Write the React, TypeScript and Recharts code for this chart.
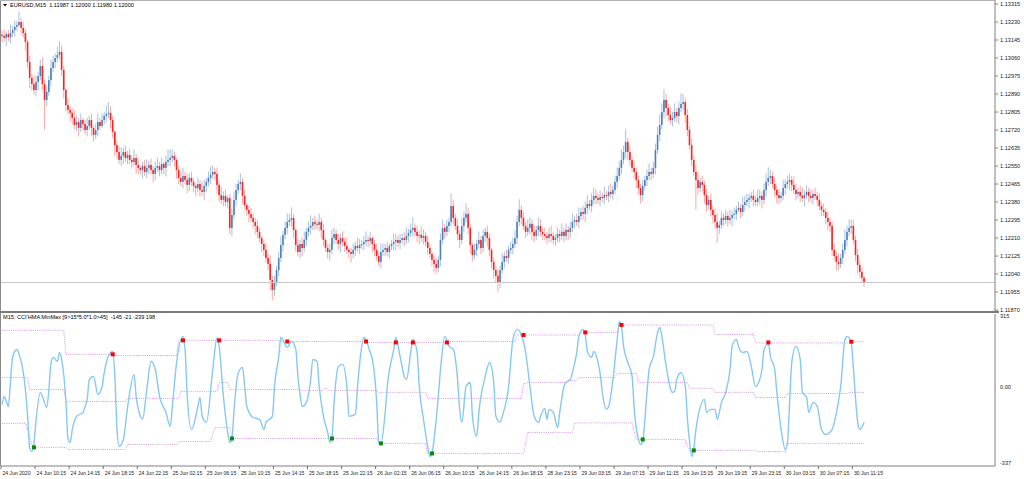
import React from 'react';
import { ComposedChart, Bar, Line, XAxis, YAxis, ReferenceLine } from 'recharts';

const SLOTS = 467;
const FONT = "'Liberation Sans', Arial, sans-serif";

// prices stored as points above 1.10000 (e.g. 3164 -> 1.13164)
const firstOpen = 3170;
const closes = [
  3164,3155,3173,3159,3178,3192,3207,3216,3230,3202,
  3178,3136,3041,2966,2937,2909,2947,2975,3022,2937,
  2862,2900,2956,3013,3041,3060,3074,3089,3004,2909,
  2838,2815,2801,2777,2744,2758,2730,2767,2749,2720,
  2739,2767,2730,2697,2720,2758,2739,2767,2786,2796,
  2801,2767,2711,2649,2616,2579,2598,2616,2588,2602,
  2579,2569,2588,2555,2541,2531,2550,2522,2541,2555,
  2531,2513,2541,2550,2531,2560,2541,2569,2579,2588,
  2598,2579,2531,2494,2475,2503,2484,2461,2494,2475,
  2456,2446,2465,2437,2428,2456,2475,2494,2508,2522,
  2513,2461,2413,2390,2409,2380,2399,2258,2319,2390,
  2437,2465,2475,2409,2366,2343,2324,2305,2286,2267,
  2239,2210,2182,2154,2116,2088,2012,1965,2003,2059,
  2116,2177,2225,2258,2286,2295,2305,2248,2177,2144,
  2182,2163,2201,2239,2258,2267,2286,2277,2272,2286,
  2248,2201,2163,2144,2154,2210,2229,2201,2182,2210,
  2192,2173,2154,2144,2135,2154,2173,2163,2177,2182,
  2192,2201,2196,2210,2182,2154,2125,2097,2144,2154,
  2163,2144,2173,2182,2192,2201,2187,2201,2210,2201,
  2220,2234,2248,2258,2239,2220,2225,2210,2220,2192,
  2163,2135,2107,2088,2069,2107,2201,2258,2239,2267,
  2286,2361,2305,2267,2229,2201,2267,2305,2324,2258,
  2177,2130,2154,2182,2201,2163,2220,2239,2210,2154,
  2097,2059,2031,2003,2059,2097,2125,2116,2154,2163,
  2182,2210,2286,2343,2305,2267,2239,2258,2277,2239,
  2220,2248,2267,2239,2229,2220,2210,2229,2220,2201,
  2210,2229,2220,2239,2220,2248,2239,2258,2286,2295,
  2286,2314,2333,2324,2352,2371,2361,2390,2409,2399,
  2390,2404,2399,2413,2409,2428,2418,2437,2475,2503,
  2541,2579,2616,2664,2616,2579,2541,2522,2484,2446,
  2413,2456,2484,2503,2522,2513,2541,2626,2697,2744,
  2805,2862,2824,2791,2767,2777,2805,2786,2824,2843,
  2852,2791,2720,2649,2579,2522,2484,2446,2475,2461,
  2413,2366,2390,2343,2319,2286,2258,2272,2305,2295,
  2314,2295,2305,2319,2324,2343,2352,2333,2366,2380,
  2390,2399,2409,2390,2380,2399,2409,2390,2437,2475,
  2494,2503,2465,2437,2413,2399,2409,2446,2465,2475,
  2484,2461,2437,2418,2428,2409,2399,2413,2428,2409,
  2399,2418,2409,2390,2361,2343,2333,2305,2286,2267,
  2154,2125,2097,2088,2116,2154,2201,2239,2258,2267,
  2201,2130,2083,2050,2022,2000,
];
// wick lengths beyond the body, in pips
const wickUp = [
  2,3,1,2,4,2,3,2,5,2,3,2,1,3,2,4,3,2,3,4,
  2,3,2,4,3,2,4,5,3,2,1,3,2,2,4,3,2,3,1,2,
  4,2,3,1,3,4,2,3,2,4,5,3,2,1,2,3,4,2,3,2,
  3,2,4,2,3,1,2,3,4,2,3,2,3,4,2,3,1,3,5,4,
  3,2,1,2,3,4,2,3,2,3,2,1,3,2,4,3,2,3,4,3,
  2,3,2,4,2,3,1,2,3,4,3,2,4,2,3,1,2,3,2,2,
  3,2,1,2,3,2,4,2,3,2,3,4,2,3,4,3,5,2,1,3,
  2,3,4,2,3,5,2,3,2,4,2,3,1,2,3,4,3,2,3,2,
  3,2,4,1,2,3,2,4,3,2,3,4,2,3,1,2,3,2,4,3,
  2,3,1,2,4,3,2,3,2,3,4,2,3,5,2,3,2,4,3,2,
  3,2,1,2,3,2,3,4,2,3,2,6,3,2,3,2,4,3,5,3,
  2,1,3,2,4,2,3,2,3,2,1,2,2,3,2,4,2,3,2,3,
  3,4,3,5,2,3,2,4,3,2,3,2,4,3,2,3,2,3,4,2,
  2,3,2,4,2,3,2,3,4,2,3,4,2,3,3,4,2,3,4,3,
  2,3,2,4,2,3,4,2,3,4,3,5,3,6,2,3,2,3,2,2,
  2,3,2,3,4,2,3,3,4,5,4,5,3,2,4,3,4,2,3,5,
  4,2,3,2,3,2,3,4,2,3,2,3,2,3,2,3,4,2,3,2,
  3,2,4,2,3,2,3,2,4,3,3,2,2,3,2,4,3,2,3,4,
  5,3,2,3,2,3,2,4,2,3,3,2,4,3,2,3,4,2,3,2,
  3,2,3,2,3,2,3,2,3,2,2,3,2,4,2,3,5,3,4,3,
  3,2,3,2,2,1,
];
const wickDown = [
  3,2,4,2,3,2,3,2,1,3,2,4,3,5,3,2,3,4,2,3,
  14,3,2,3,2,3,2,2,3,4,3,2,4,3,2,3,4,2,3,2,
  3,2,4,3,2,3,2,1,2,3,2,4,3,5,3,2,3,4,2,3,
  2,3,2,4,3,2,4,2,3,3,2,4,3,2,3,2,3,4,2,3,
  2,3,4,3,2,3,2,4,3,2,3,4,2,3,2,4,3,2,3,2,
  3,4,3,2,3,2,3,3,4,2,3,2,3,4,2,3,4,2,3,4,
  3,2,4,3,2,3,5,5,3,2,3,2,3,2,3,2,3,4,3,2,
  3,4,2,3,2,3,2,3,2,3,4,3,2,3,4,2,3,2,3,4,
  2,3,2,3,4,2,3,2,3,2,3,2,3,2,4,3,2,2,3,2,
  3,2,3,2,3,4,2,3,2,3,2,3,2,3,2,3,4,2,3,2,
  3,2,3,4,3,2,3,2,3,2,3,2,3,2,3,4,2,3,2,3,
  4,3,2,3,2,3,2,3,4,3,3,4,3,5,3,2,3,2,3,2,
  3,2,3,2,3,2,3,2,3,4,3,2,3,2,3,2,3,2,3,2,
  3,2,3,2,3,2,4,3,2,3,2,3,2,3,4,3,2,3,2,3,
  2,3,2,3,2,3,2,3,2,3,2,3,2,3,4,3,2,3,4,3,
  4,3,2,3,2,3,2,3,2,3,2,3,4,3,2,3,2,3,4,2,
  3,4,3,2,3,2,14,3,2,3,4,3,2,3,4,3,7,3,2,3,
  2,3,2,4,2,3,1,3,2,3,2,4,2,3,2,2,3,4,2,3,
  2,3,2,3,4,3,2,2,3,2,4,3,2,3,2,3,2,4,2,3,
  2,3,2,3,2,3,2,3,4,3,3,2,4,3,2,3,2,3,2,3,
  2,3,4,3,2,2,
];

const priceTicks = [1.13315,1.1323,1.13145,1.1306,1.12975,1.1289,1.12805,1.1272,1.12635,1.1255,1.12465,1.1238,1.12295,1.1221,1.12125,1.1204,1.11955,1.1187];
const lastPrice = 1.12;
const priceDomain = [1.118655, 1.133339];

const timeTickBars = [0,16,32,48,64,80,96,112,128,144,160,176,192,208,224,240,256,272,288,304,320,336,352,368,384,400];
const timeLabels = ['24 Jun 2020','24 Jun 10:15','24 Jun 14:15','24 Jun 18:15','24 Jun 22:15','25 Jun 02:15','25 Jun 06:15','25 Jun 10:15','25 Jun 14:15','25 Jun 18:15','25 Jun 22:15','26 Jun 02:15','26 Jun 06:15','26 Jun 10:15','26 Jun 14:15','26 Jun 18:15','28 Jun 23:15','29 Jun 03:15','29 Jun 07:15','29 Jun 11:15','29 Jun 15:15','29 Jun 19:15','29 Jun 23:15','30 Jun 03:15','30 Jun 07:15','30 Jun 11:15'];

const cciTicks = [315, 0, -337];
const cciPoints = [
  [0,-73],[1,-39],[2,-60],[3,-82],[4,34],[5,133],[7,163],[8,142],[10,64],[12,-120],[13,-262],[14,-275],[15,-240],[16,-137],[18,-21],[19,-39],[21,-86],[22,-9],[23,107],[24,129],[26,112],[27,150],[28,120],[30,-60],[31,-223],[32,-236],[33,-180],[35,-124],[38,-107],[39,-82],[40,-51],[41,34],[43,47],[45,-30],[47,4],[48,64],[51,150],[52,154],[53,47],[54,-180],[55,-253],[57,-223],[59,-82],[62,56],[63,-39],[65,-124],[66,-137],[68,-9],[70,112],[72,77],[74,-39],[77,-107],[79,-167],[80,-82],[82,107],[85,219],[86,163],[87,-39],[89,-180],[92,-82],[93,-43],[94,-124],[96,-150],[99,77],[101,212],[102,176],[104,-39],[106,-193],[107,-236],[108,-223],[109,-94],[111,64],[113,86],[114,4],[115,-82],[118,-129],[121,-137],[123,-180],[124,-150],[127,-124],[128,4],[130,133],[131,215],[133,184],[134,172],[136,197],[138,163],[139,47],[140,-30],[141,-82],[143,-64],[145,34],[146,120],[148,112],[149,4],[151,-124],[153,-193],[154,-236],[155,-215],[156,-64],[158,90],[160,99],[162,4],[163,-124],[166,-116],[167,4],[169,176],[170,215],[173,150],[174,120],[176,-64],[177,-236],[178,-240],[180,-107],[181,4],[184,163],[185,215],[187,133],[189,47],[190,34],[192,150],[193,206],[195,150],[196,4],[198,-137],[200,-253],[201,-296],[202,-280],[204,-137],[206,77],[208,219],[210,176],[212,163],[214,34],[215,-94],[216,-150],[218,4],[220,21],[221,-124],[223,-210],[224,-107],[227,47],[229,107],[231,21],[232,-124],[234,-150],[235,-124],[238,4],[240,206],[242,249],[244,225],[246,150],[248,4],[250,-124],[252,-150],[253,-124],[255,-90],[256,-137],[257,-94],[259,-107],[261,-172],[262,-107],[264,4],[265,21],[267,34],[268,64],[270,150],[271,219],[273,249],[274,225],[275,154],[277,129],[278,154],[280,107],[281,58],[282,-21],[284,-94],[285,-82],[287,34],[289,206],[290,283],[291,260],[292,176],[294,107],[296,47],[297,-94],[299,-223],[300,-245],[301,-230],[303,-21],[304,77],[306,133],[308,236],[309,257],[310,219],[312,90],[315,-21],[316,-17],[317,34],[319,64],[321,4],[322,-137],[323,-230],[324,-296],[325,-260],[326,-180],[327,-124],[330,-51],[331,-107],[333,-94],[335,-94],[336,-137],[338,-64],[340,-21],[342,77],[343,176],[345,206],[346,176],[348,150],[350,154],[352,90],[354,4],[355,13],[357,77],[358,163],[360,189],[361,133],[363,77],[364,-21],[366,-180],[368,-266],[369,-236],[370,-64],[371,107],[373,176],[375,120],[376,-21],[378,-43],[379,-107],[381,-64],[383,-82],[385,-180],[387,-202],[390,-180],[392,-107],[394,4],[396,206],[397,219],[399,190],[400,77],[402,-150],[403,-180],[405,-150],
];
// level lines: [first bar of the step, level]
const upperSteps = [[0,245],[30,142],[52,137],[83,202],[131,197],[170,193],[211,197],[242,225],[272,236],[290,268],[335,227],[354,191],[399,196]];
const middleSteps = [[0,43],[13,-9],[30,-60],[59,-47],[84,-17],[102,21],[107,-9],[140,-13],[152,0],[153,-13],[177,-21],[200,-47],[245,17],[247,21],[266,30],[271,43],[289,60],[299,21],[323,-4],[335,-21],[354,-43],[369,-26],[398,-21]];
const lowerSteps = [[0,-154],[12,-180],[13,-215],[14,-245],[15,-257],[31,-266],[59,-245],[83,-232],[99,-200],[100,-172],[108,-219],[177,-236],[178,-240],[200,-283],[246,-240],[247,-193],[269,-152],[297,-190],[298,-223],[322,-250],[323,-270],[355,-275],[369,-240]];
const peakMarks = [[52,142],[85,202],[102,202],[134,197],[171,197],[185,193],[193,193],[209,193],[245,225],[274,236],[291,268],[360,193],[399,196]];
const troughMarks = [[15,-257],[108,-219],[155,-219],[178,-240],[202,-283],[301,-223],[325,-270]];

const toPrice = (v: number) => 1.1 + v / 1e5;
const stepAt = (steps: number[][], b: number) => {
  let v = steps[0][1];
  for (const [s, val] of steps) if (s <= b) v = val;
  return v;
};

const priceData = Array.from({ length: SLOTS }, (_, i) => {
  if (i >= closes.length) return { i };
  const o = toPrice(i === 0 ? firstOpen : closes[i - 1]);
  const c = toPrice(closes[i]);
  const h = Math.max(o, c) + wickUp[i] / 1e4;
  const l = Math.min(o, c) - wickDown[i] / 1e4;
  return { i, o, c, h, l, hl: [l, h] };
});

const cciMap = new Map(cciPoints.map(([b, v]) => [b, v]));
const peakMap = new Map(peakMarks.map(([b, v]) => [b, v]));
const troughMap = new Map(troughMarks.map(([b, v]) => [b, v]));
const indData = Array.from({ length: SLOTS }, (_, i) => {
  if (i >= closes.length) return { i };
  return {
    i,
    cci: cciMap.has(i) ? cciMap.get(i) : null,
    up: stepAt(upperSteps, i),
    mid: stepAt(middleSteps, i),
    low: stepAt(lowerSteps, i),
    peak: peakMap.has(i) ? peakMap.get(i) : null,
    trough: troughMap.has(i) ? troughMap.get(i) : null,
  };
});

const Candle = (props: any) => {
  const { x, y, width, height, payload } = props;
  if (!payload || payload.o == null || y == null || isNaN(y)) return <g />;
  const { o, c, h, l } = payload;
  const top0 = Math.min(y, y + height);
  const hh = Math.abs(height);
  const span = h - l || 1e-9;
  const yOf = (p: number) => top0 + ((h - p) / span) * hh;
  const bull = c >= o;
  const cx = x + width / 2;
  const bt = yOf(Math.max(o, c));
  const bb = yOf(Math.min(o, c));
  return (
    <g>
      <line x1={cx} x2={cx} y1={top0} y2={top0 + hh} stroke={bull ? '#a8c2de' : '#ffa6a6'} strokeWidth={1} />
      <rect x={cx - 0.8} y={bt} width={1.6} height={Math.max(1, bb - bt)} fill={bull ? '#4b80b9' : '#ff1f1f'} />
    </g>
  );
};

const PriceTick = (props: any) => {
  const { x, y, payload } = props;
  const v = payload.value;
  if (Math.abs(v - lastPrice) < 1e-9) {
    return (
      <g>
        <rect x={x - 2} y={y - 4.5} width={26} height={9} fill="#000" />
        <text x={x} y={y} dy={2} fontSize={5.6} fill="#fff" fontFamily={FONT}>{v.toFixed(5)}</text>
      </g>
    );
  }
  return <text x={x} y={y} dy={2} fontSize={5.6} fill="#222" fontFamily={FONT}>{v.toFixed(5)}</text>;
};

const CciTick = (props: any) => {
  const { x, y, payload } = props;
  const v = payload.value;
  const label = v === 0 ? '0.00' : String(v);
  const dy = v > 0 ? 4 : v < 0 ? -1 : 2;
  return <text x={x} y={y} dy={dy} fontSize={5.6} fill="#222" fontFamily={FONT}>{label}</text>;
};

const TimeTick = (props: any) => {
  const { x, y, payload } = props;
  const idx = timeTickBars.indexOf(payload.value);
  const tx = x - 1.06;
  return (
    <g>
      <line x1={tx} x2={tx} y1={y} y2={y + 3} stroke="#707070" strokeWidth={1} />
      <text x={tx + 1.5} y={y + 9} fontSize={5.1} fill="#222" fontFamily={FONT}>{timeLabels[idx]}</text>
    </g>
  );
};

const SquareDot = (color: string) => (props: any) => {
  const { cx, cy, value, key } = props;
  if (value == null || cy == null || isNaN(cy)) return <g key={key} />;
  return <rect key={key} x={cx - 2} y={cy - 2} width={4} height={4} fill={color} />;
};

export default function App() {
  return (
    <div style={{ position: 'absolute', left: 0, top: 0, width: 1024, height: 479, background: '#fff', overflow: 'hidden' }}>
      <div style={{ position: 'absolute', left: 0, top: 0 }}>
        <ComposedChart width={1024} height={315} data={priceData} margin={{ top: 0, right: 0, bottom: 4, left: 1 }} barCategoryGap={0} barGap={0}>
          <XAxis dataKey="i" type="category" scale="band" hide />
          <YAxis
            orientation="right"
            width={29}
            type="number"
            domain={priceDomain}
            allowDataOverflow
            ticks={priceTicks}
            interval={0}
            tickSize={3}
            tickMargin={2}
            tick={<PriceTick />}
            axisLine={{ stroke: '#808080' }}
            tickLine={{ stroke: '#808080' }}
          />
          <ReferenceLine y={lastPrice} stroke="#c8c8c8" strokeWidth={1} ifOverflow="extendDomain" />
          <Bar dataKey="hl" shape={<Candle />} isAnimationActive={false} />
        </ComposedChart>
      </div>
      <div style={{ position: 'absolute', left: 0, top: 312 }}>
        <ComposedChart width={1024} height={167} data={indData} margin={{ top: 2, right: 0, bottom: 0, left: 1 }}>
          <XAxis
            dataKey="i"
            type="category"
            scale="band"
            height={13}
            ticks={timeTickBars}
            interval={0}
            tickSize={0}
            tickMargin={0}
            tick={<TimeTick />}
            axisLine={{ stroke: '#808080' }}
            tickLine={false}
          />
          <YAxis
            orientation="right"
            width={29}
            type="number"
            domain={[-337, 315]}
            allowDataOverflow
            ticks={cciTicks}
            interval={0}
            tickSize={3}
            tickMargin={2}
            tick={<CciTick />}
            axisLine={{ stroke: '#808080' }}
            tickLine={false}
          />
          <Line dataKey="up" type="linear" stroke="#d590e2" strokeWidth={1} strokeDasharray="1 1.2" dot={false} isAnimationActive={false} />
          <Line dataKey="mid" type="linear" stroke="#d590e2" strokeWidth={1} strokeDasharray="1 1.2" dot={false} isAnimationActive={false} />
          <Line dataKey="low" type="linear" stroke="#d590e2" strokeWidth={1} strokeDasharray="1 1.2" dot={false} isAnimationActive={false} />
          <Line dataKey="cci" type="monotone" stroke="#86c8f2" strokeWidth={1.4} connectNulls dot={false} isAnimationActive={false} />
          <Line dataKey="peak" stroke="none" dot={SquareDot('#ff0000')} activeDot={false} isAnimationActive={false} />
          <Line dataKey="trough" stroke="none" dot={SquareDot('#0a8a0a')} activeDot={false} isAnimationActive={false} />
        </ComposedChart>
      </div>
      <svg width={1024} height={479} style={{ position: 'absolute', left: 0, top: 0, pointerEvents: 'none' }}>
        <line x1={0.5} x2={0.5} y1={0} y2={466} stroke="#8a8a8a" />
        <line x1={0} x2={995} y1={0.5} y2={0.5} stroke="#b0b0b0" />
        <rect x={0} y={311} width={999} height={2} fill="#7a7a7a" />
        <polygon points="3,4 7,4 5,6.5" fill="#000" />
        <text x={10} y={7} fontSize={5.6} fill="#000" fontFamily={FONT} style={{ whiteSpace: 'pre' }}>EURUSD,M15  1.11987 1.12000 1.11980 1.12000</text>
        <text x={3} y={319} fontSize={5.6} fill="#000" fontFamily={FONT} style={{ whiteSpace: 'pre' }}>M15: CCI'HMA MinMax [9&gt;15*5.0*1.0&gt;45]  -145 -21 -239 198</text>
      </svg>
    </div>
  );
}
